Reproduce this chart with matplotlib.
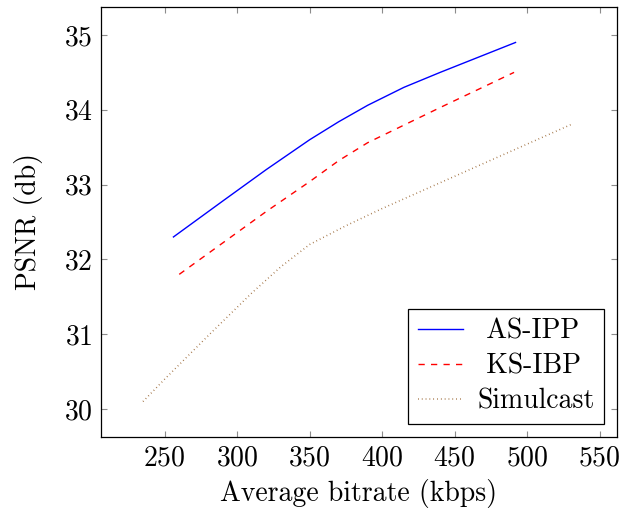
import matplotlib
matplotlib.use('Agg')
import matplotlib.pyplot as plt

# Computer Modern ships with matplotlib
plt.rcParams['font.family'] = ['cmr10', 'DejaVu Serif']
plt.rcParams['axes.formatter.use_mathtext'] = True
plt.rcParams['font.size'] = 20

# Data
as_ipp_x = [256, 290, 320, 350, 370, 390, 415, 440, 492]
as_ipp_y = [32.3, 32.78, 33.2, 33.6, 33.84, 34.06, 34.3, 34.5, 34.9]

ks_ibp_x = [260, 290, 320, 350, 370, 390, 440, 491]
ks_ibp_y = [31.8, 32.22, 32.64, 33.04, 33.32, 33.56, 34.03, 34.5]

simul_x = [235, 250, 281, 310, 330, 350, 375, 400, 465, 530]
simul_y = [30.1, 30.4, 31.0, 31.55, 31.9, 32.2, 32.45, 32.68, 33.24, 33.8]

xticks = [250, 300, 350, 400, 450, 500, 550]
yticks = [30, 31, 32, 33, 34, 35]

fig = plt.figure(figsize=(6.26, 5.15), dpi=100)
ax = fig.add_axes([0.1613, 0.1515, 0.8243, 0.8349])

# leading space roughly centres the shorter labels like pgfplots does
ax.plot(as_ipp_x, as_ipp_y, color='#0000ff', lw=1.0, label=' AS-IPP')
ax.plot(ks_ibp_x, ks_ibp_y, color='#ff0000', lw=1.0, dashes=(4.5, 4.5), label=' KS-IBP')
ax.plot(simul_x, simul_y, color=(0.6, 0.4, 0.2), lw=1.1, dashes=(0.5, 2.0), label='Simulcast')

ax.set_xlim(206, 562)
ax.set_ylim(29.626, 35.374)
ax.set_xticks(xticks)
ax.set_yticks(yticks)
ax.tick_params(direction='in', length=4, width=0.8, color='0.55',
               top=True, right=True, pad=6)
for s in ax.spines.values():
    s.set_linewidth(0.9)

ax.set_xlabel('Average bitrate (kbps)', labelpad=5)
ax.set_ylabel('PSNR (db)', labelpad=15)

leg = ax.legend(loc='lower right', fancybox=False, framealpha=1,
                edgecolor='black', handlelength=1.62, borderpad=0.35,
                labelspacing=0.3, handletextpad=0.5, borderaxespad=0,
                bbox_to_anchor=(0.9748, 0.0302))
leg.get_frame().set_linewidth(0.9)

fig.savefig('out.png', dpi=100)
